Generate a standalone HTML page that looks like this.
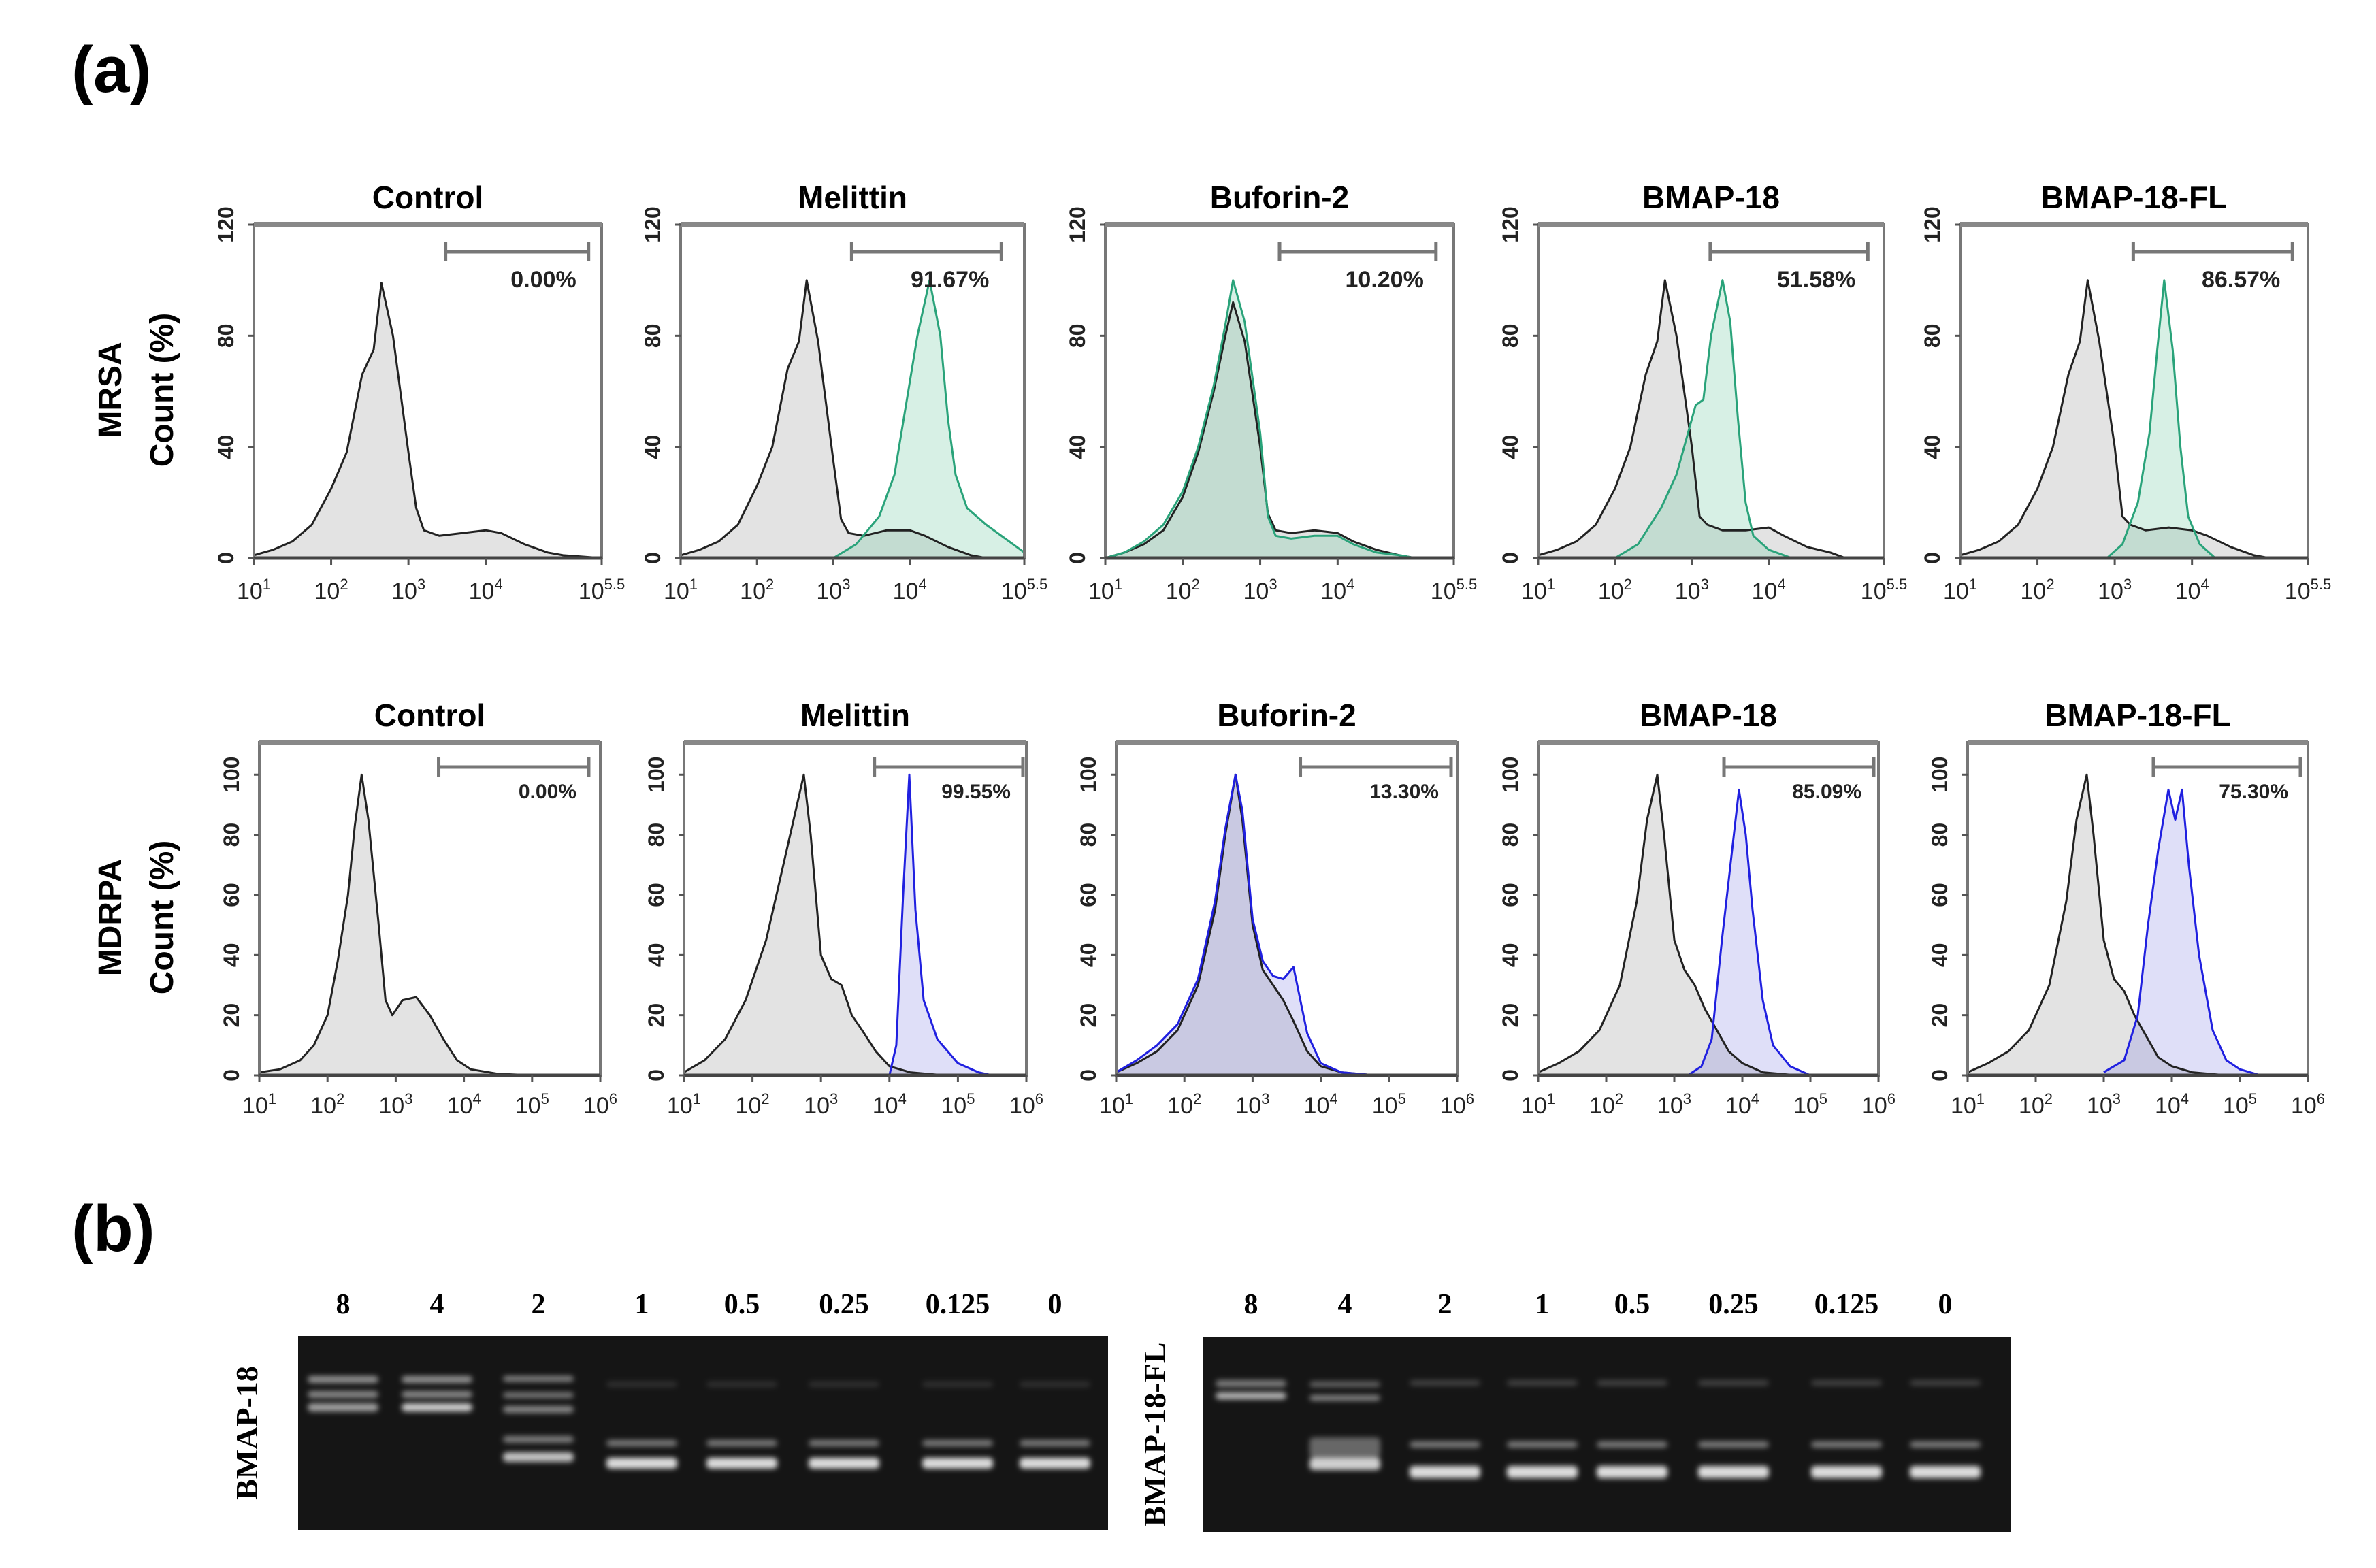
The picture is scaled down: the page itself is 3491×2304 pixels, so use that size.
<!DOCTYPE html>
<html><head><meta charset="utf-8"><style>
html,body{margin:0;padding:0;background:#fff}
svg{display:block}
text{font-family:"Liberation Sans",Arial,sans-serif}
.serif{font-family:"Liberation Serif","Times New Roman",serif;font-weight:bold}
</style></head><body>
<svg id="fig" xmlns="http://www.w3.org/2000/svg" width="3491" height="2304" viewBox="0 0 3491 2304">
<defs><filter id="blur" x="-20%" y="-50%" width="140%" height="200%"><feGaussianBlur stdDeviation="4"/></filter></defs>
<rect width="3491" height="2304" fill="#fff"/>
<text x="105" y="135" font-size="96" font-weight="bold">(a)</text>
<text x="105" y="1838" font-size="96" font-weight="bold">(b)</text>
<g>
<text transform="translate(178,573) rotate(-90)" text-anchor="middle" font-size="48" font-weight="bold">MRSA</text>
<text transform="translate(254,573) rotate(-90)" text-anchor="middle" font-size="48" font-weight="bold">Count (%)</text>
</g>
<g>
<text transform="translate(178,1348) rotate(-90)" text-anchor="middle" font-size="48" font-weight="bold">MDRPA</text>
<text transform="translate(254,1348) rotate(-90)" text-anchor="middle" font-size="48" font-weight="bold">Count (%)</text>
</g>
<g id="charts"></g>
<g id="gels"></g>
</svg>
<script>
// ---- data: row 1 (MRSA) ----
const titles = ["Control","Melittin","Buforin-2","BMAP-18","BMAP-18-FL"];
const r1Pct = ["0.00%","91.67%","10.20%","51.58%","86.57%"];
const r2Pct = ["0.00%","99.55%","13.30%","85.09%","75.30%"];
const r1GateStart = [3.48,3.24,3.25,3.24,3.24];
const r1GateEnd = [5.33,5.2,5.27,5.29,5.3];
const r2GateStart = [3.63,3.78,3.7,3.73,3.73];
const r2GateEnd = [5.83,5.95,5.91,5.93,5.89];
const r1YTicks = [0,40,80,120];
const r2YTicks = [0,20,40,60,80,100];
const r1XTicks = [1,2,3,4,5.5];
const r1XTickLabels = ["1","2","3","4","5.5"];
const r2XTicks = [1,2,3,4,5,6];
const r2XTickLabels = ["1","2","3","4","5","6"];

const X1 = [1,1.25,1.5,1.75,2,2.2,2.4,2.55,2.65,2.8,3,3.1,3.2,3.4,3.7,4,4.2,4.5,4.8,5,5.5];
const r1Control = [1,3,6,12,25,38,66,75,99,80,38,18,10,8,9,10,9,5,2,1,0];
const r1MelBlack = [1,3,6,12,26,40,68,78,100,78,35,14,9,8,10,10,8,4,1,0,0];
const r1BufBlack = [0,2,5,10,22,38,60,80,92,78,40,16,10,9,10,9,6,3,1,0,0];
const r1BufGreen = [0,2,6,12,24,40,62,84,100,85,45,15,8,7,8,8,5,2,1,0,0];
const r1BmapBlack = [1,3,6,12,25,40,66,78,100,80,40,15,12,10,10,11,8,4,2,0,0];
const r1FlBlack = [1,3,6,12,25,40,66,78,100,78,40,15,12,10,11,10,8,4,1,0,0];
const r1MelGreenX = [3,3.3,3.6,3.8,3.95,4.1,4.26,4.4,4.5,4.6,4.75,5,5.3,5.5];
const r1MelGreen = [0,5,15,30,55,80,100,80,50,30,18,12,6,2];
const r1BmapGreenX = [2,2.3,2.6,2.8,2.95,3.05,3.15,3.25,3.4,3.5,3.6,3.7,3.8,4,4.3];
const r1BmapGreen = [0,5,18,30,45,55,57,80,100,85,50,20,8,3,0];
const r1FlGreenX = [2.9,3.1,3.3,3.45,3.55,3.64,3.75,3.85,3.95,4.1,4.3];
const r1FlGreen = [0,5,20,45,75,100,75,40,15,5,0];

// ---- data: row 2 (MDRPA) ----
const X2 = [1,1.3,1.6,1.8,2,2.15,2.3,2.4,2.5,2.6,2.75,2.85,2.95,3.1,3.3,3.5,3.7,3.9,4.1,4.5,5,6];
const r2Control = [1,2,5,10,20,38,60,83,100,85,50,25,20,25,26,20,12,5,2,0.5,0,0];
const X2b = [1,1.3,1.6,1.9,2.2,2.45,2.6,2.75,2.85,3,3.15,3.3,3.45,3.6,3.8,4,4.3,4.8,6];
const r2MelBlack = [1,5,12,25,45,70,85,100,80,40,32,30,20,15,8,3,1,0,0];
const r2BufBlack = [1,4,8,15,30,55,80,100,85,50,35,30,25,18,8,3,1,0,0];
const r2BufBlue = [1,5,10,17,32,58,82,100,88,52,38,33,32,36,14,4,1,0,0];
const r2BmapBlack = [1,4,8,15,30,58,85,100,80,45,35,30,22,16,8,4,1,0,0];
const r2FlBlack = [1,4,8,15,30,58,85,100,80,45,32,28,20,14,6,3,1,0,0];
const r2MelBlueX = [4,4.1,4.2,4.29,4.38,4.5,4.7,5,5.3,5.5,6];
const r2MelBlue = [0,10,60,100,55,25,12,4,1,0,0];
const r2BmapBlueX = [3.2,3.4,3.55,3.7,3.85,3.95,4.05,4.15,4.3,4.45,4.7,5,6];
const r2BmapBlue = [0,3,12,45,75,95,80,55,25,10,3,0,0];
const r2FlBlueX = [3,3.3,3.5,3.65,3.8,3.95,4.05,4.15,4.25,4.4,4.6,4.8,5,5.3,6];
const r2FlBlue = [1,5,20,50,75,95,85,95,70,40,15,5,2,0,0];

// ---- gel data ----
const lanes = ["8","4","2","1","0.5","0.25","0.125","0"];

const NS = "http://www.w3.org/2000/svg";
function mk(tag, attrs, parent){const e=document.createElementNS(NS,tag);for(const k in attrs)e.setAttribute(k,attrs[k]);if(parent)parent.appendChild(e);return e;}

const BLACK = {line:"#222", fill:"#e3e3e3"};
const GREEN = {line:"#2aa37a", fill:"rgba(110,200,160,0.28)"};
const BLUE = {line:"#2020e0", fill:"rgba(110,110,225,0.22)"};

const r1Series = [
  [[X1,r1Control,BLACK]],
  [[X1,r1MelBlack,BLACK],[r1MelGreenX,r1MelGreen,GREEN]],
  [[X1,r1BufBlack,BLACK],[X1,r1BufGreen,GREEN]],
  [[X1,r1BmapBlack,BLACK],[r1BmapGreenX,r1BmapGreen,GREEN]],
  [[X1,r1FlBlack,BLACK],[r1FlGreenX,r1FlGreen,GREEN]]
];
const r2Series = [
  [[X2,r2Control,BLACK]],
  [[X2b,r2MelBlack,BLACK],[r2MelBlueX,r2MelBlue,BLUE]],
  [[X2b,r2BufBlack,BLACK],[X2b,r2BufBlue,BLUE]],
  [[X2b,r2BmapBlack,BLACK],[r2BmapBlueX,r2BmapBlue,BLUE]],
  [[X2b,r2FlBlack,BLACK],[r2FlBlueX,r2FlBlue,BLUE]]
];

const row1Left=[373,1000,1624,2260,2880], row1Right=[884,1505,2136,2768,3391];
const row2Left=[381,1005,1640,2260,2891], row2Right=[882,1508,2141,2760,3391];

function drawPanel(row,i,L,R,top,base,yTopVal,xMin,xMax,series,yTicks,xTicks,xLabels,gs,ge,pct){
  const charts=document.getElementById("charts");
  const g=mk("g",{},charts);
  
  
  const sx=v=>L+(v-xMin)/(xMax-xMin)*(R-L);
  const sy=v=>base-v/yTopVal*(base-top);
  const t=mk("text",{x:(L+R)/2,y:top-24,"text-anchor":"middle","font-size":46,"font-weight":"bold"},g);
  t.textContent=titles[i];
  
  
  series.forEach(s=>{
    const xs=s[0],ys=s[1],c=s[2];
    let d="M"+sx(xs[0])+","+base;
    xs.forEach((x,k)=>{d+=" L"+sx(x).toFixed(1)+","+sy(ys[k]).toFixed(1);});
    d+=" L"+sx(xs[xs.length-1])+","+base+" Z";
    const a=mk("path",{d:d,fill:c.fill,stroke:"none"},g);
    
    
  });
  series.forEach(s=>{
    const xs=s[0],ys=s[1],c=s[2];
    let d="";
    xs.forEach((x,k)=>{d+=(k?" L":"M")+sx(x).toFixed(1)+","+sy(ys[k]).toFixed(1);});
    const p=mk("path",{d:d,fill:"none",stroke:c.line,"stroke-width":3,"stroke-linejoin":"round"},g);
    
    
  });
  const box=mk("rect",{x:L,y:top,width:R-L,height:base-top,fill:"none",stroke:"#777","stroke-width":4},g);
  
  
  mk("line",{x1:L,x2:R,y1:top,y2:top,stroke:"#888","stroke-width":8},g);
  mk("line",{x1:L,x2:R,y1:base,y2:base,stroke:"#444","stroke-width":5},g);
  yTicks.forEach(v=>{
    mk("line",{x1:L-8,x2:L,y1:sy(v),y2:sy(v),stroke:"#555","stroke-width":3},g);
    const tt=mk("text",{transform:"translate("+(L-30)+","+sy(v)+") rotate(-90)","text-anchor":"middle","font-size":32,"font-weight":"bold",fill:"#222"},g);
    tt.textContent=v;
    
    
  });
  xTicks.forEach((v,k)=>{
    mk("line",{x1:sx(v),x2:sx(v),y1:base,y2:base+10,stroke:"#555","stroke-width":3},g);
    const tt=mk("text",{x:sx(v),y:base+(row==="mrsa"?60:56),"text-anchor":"middle","font-size":34,fill:"#222"},g);
    
    
    const a=mk("tspan",{},tt);a.textContent="10";
    const b=mk("tspan",{"font-size":22,dy:-14},tt);b.textContent=xLabels[k];
  });
  const gy=row==="mrsa"?top+40:top+36;
  const gate=mk("g",{stroke:"#777","stroke-width":5},g);
  
  
  mk("line",{x1:sx(gs),x2:sx(ge),y1:gy,y2:gy},gate);
  mk("line",{x1:sx(gs),x2:sx(gs),y1:gy-14,y2:gy+14},gate);
  mk("line",{x1:sx(ge),x2:sx(ge),y1:gy-14,y2:gy+14},gate);
  const pt=mk("text",{x:sx(ge)-18,y:gy+(row==="mrsa"?52:46),"text-anchor":"end","font-size":row==="mrsa"?34:30,"font-weight":"bold",fill:"#222"},g);
  pt.textContent=pct;
  
  
}
for(let i=0;i<5;i++){
  drawPanel("mrsa",i,row1Left[i],row1Right[i],330,820,120,1,5.5,r1Series[i],r1YTicks,r1XTicks,r1XTickLabels,r1GateStart[i],r1GateEnd[i],r1Pct[i]);
  drawPanel("mdrpa",i,row2Left[i],row2Right[i],1091,1580,110.7,1,6,r2Series[i],r2YTicks,r2XTicks,r2XTickLabels,r2GateStart[i],r2GateEnd[i],r2Pct[i]);
}

// ---- gels ----
function drawGel(name,label,lx,L,R,top,bot,labelX,kind){
  const gg=document.getElementById("gels");
  const g=mk("g",{},gg);
  
  
  mk("rect",{x:L,y:top,width:R-L,height:bot-top,fill:"#151515"},g);
  const lab=mk("text",{transform:"translate("+lx+","+((top+bot)/2)+") rotate(-90)","text-anchor":"middle","font-size":46,"class":"serif"},g);
  lab.textContent=label;
  
  
  const bands=mk("g",{filter:"url(#blur)"},g);
  labelX.forEach((x,k)=>{
    const t=mk("text",{x:x,y:1930,"text-anchor":"middle","font-size":42,"class":"serif"},g);
    t.textContent=lanes[k];
    
    
    const w=104;
    const band=(y,h,o)=>mk("rect",{x:x-w/2,y:y,width:w,height:h,rx:6,fill:"#fff",opacity:o},bands);
    if(kind==="a"){
      if(k<2){band(2022,10,0.55);band(2044,10,0.5);band(2062,12,k===1?0.8:0.6);}
      else if(k===2){band(2022,8,0.5);band(2046,8,0.45);band(2066,10,0.5);band(2110,10,0.45);band(2134,14,0.75);}
      else{band(2030,8,0.12);band(2116,9,0.45);band(2142,16,0.85);}
    }else{
      if(k===0){band(2028,10,0.45);band(2046,10,0.7);}
      else if(k===1){band(2030,8,0.35);band(2050,8,0.5);band(2112,30,0.35);band(2142,18,0.8);}
      else{band(2028,8,0.2);band(2118,9,0.45);band(2154,18,0.85);}
    }
  });
}
drawGel("gel-bmap-18","BMAP-18",378,438,1628,1963,2248,[504,642,791,943,1090,1240,1407,1550],"a");
drawGel("gel-bmap-18-fl","BMAP-18-FL",1712,1768,2954,1965,2251,[1838,1976,2123,2266,2398,2547,2713,2858],"b");
</script>
</body></html>
